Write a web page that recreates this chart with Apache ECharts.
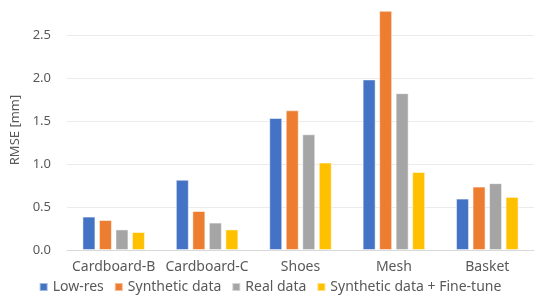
<!DOCTYPE html>
<html><head><meta charset="utf-8">
<script src="https://cdn.jsdelivr.net/npm/echarts@6/dist/echarts.min.js"></script>
<style>html,body{margin:0;padding:0;background:#fff}#c{width:540px;height:304px}</style>
</head><body><div id="c"></div>
<script>
const categories = ['Cardboard-B', 'Cardboard-C', 'Shoes', 'Mesh', 'Basket'];
const lowRes = [0.39, 0.82, 1.54, 1.99, 0.60];
const syntheticData = [0.35, 0.455, 1.63, 2.79, 0.74];
const realData = [0.24, 0.32, 1.35, 1.83, 0.78];
const syntheticFineTune = [0.21, 0.24, 1.02, 0.91, 0.62];
const seriesNames = ['Low-res', 'Synthetic data', 'Real data', 'Synthetic data + Fine-tune'];
const yTicks = [0, 0.5, 1.0, 1.5, 2.0, 2.5];
const yMax = 2.8;

const FONT = '"Noto Sans", sans-serif';
const colors = ['#4472C4', '#ED7D31', '#A5A5A5', '#FFC000'];
const values = [lowRes, syntheticData, realData, syntheticFineTune];
const gridColors = yTicks.map(() => '#ebebeb').concat(['rgba(0,0,0,0)']);

const chart = echarts.init(document.getElementById('c'), null, {renderer: 'canvas'});
chart.setOption({
  animation: false,
  color: colors,
  textStyle: {fontFamily: FONT},
  grid: {left: 67, right: 6, top: 10, bottom: 54, containLabel: false},
  legend: {
    bottom: 5, left: 'center',
    itemWidth: 8, itemHeight: 8, itemGap: 10,
    icon: 'rect',
    textStyle: {color: '#595959', fontSize: 14, fontFamily: FONT},
    data: seriesNames
  },
  xAxis: {
    type: 'category', data: categories,
    axisLine: {lineStyle: {color: '#d9d9d9'}},
    axisTick: {show: false},
    axisLabel: {color: '#595959', fontSize: 14, margin: 10, interval: 0, fontFamily: FONT}
  },
  yAxis: {
    type: 'value', min: 0, max: yMax, interval: 0.5,
    name: 'RMSE [mm]', nameLocation: 'middle', nameGap: 43, nameRotate: 90,
    nameTextStyle: {color: '#595959', fontSize: 13, fontFamily: FONT},
    axisLine: {show: false}, axisTick: {show: false},
    splitLine: {lineStyle: {color: gridColors}},
    axisLabel: {color: '#595959', fontSize: 13, margin: 16, fontFamily: FONT,
      formatter: v => (yTicks.some(t => Math.abs(t - v) < 1e-6) ? v.toFixed(1) : '')}
  },
  series: values.map((v, i) => ({
    name: seriesNames[i], type: 'bar', data: v,
    barWidth: 13, barGap: '27%',
    itemStyle: {borderColor: 'rgba(255,255,255,0.5)', borderWidth: 1}
  }))
});
</script></body></html>
